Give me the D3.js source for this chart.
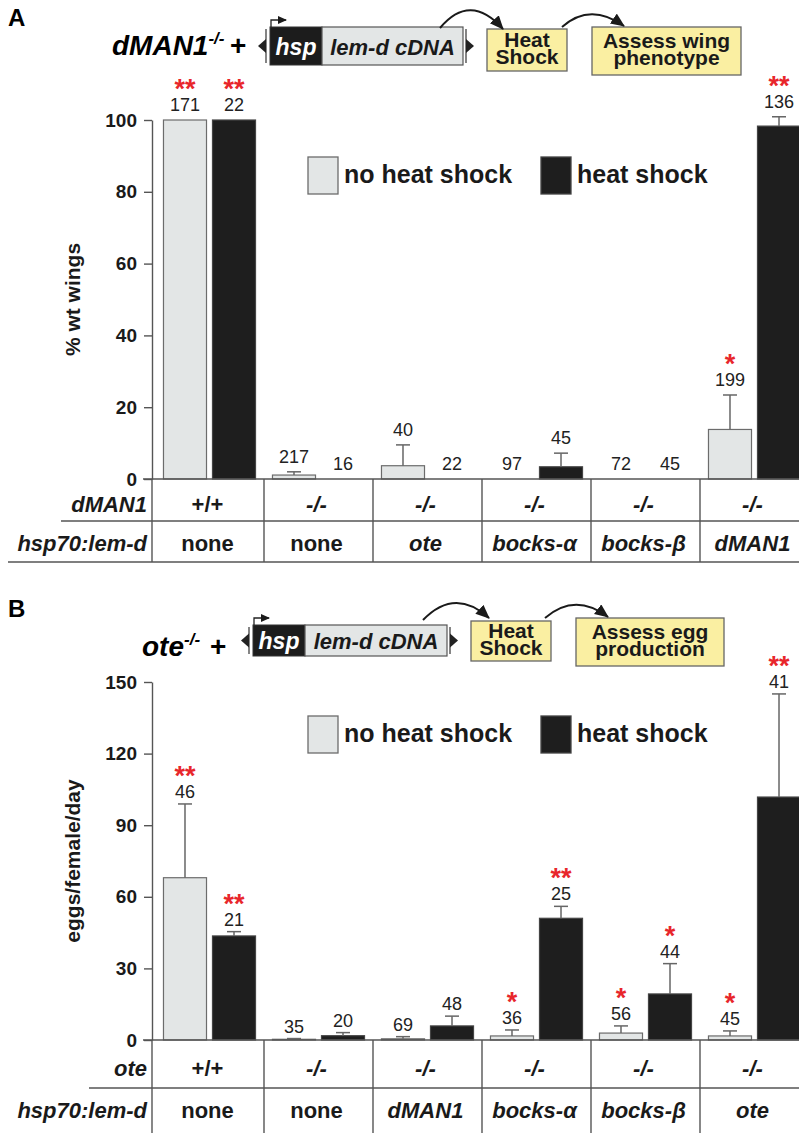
<!DOCTYPE html>
<html>
<head>
<meta charset="utf-8">
<script src="https://cdn.jsdelivr.net/npm/d3@7"></script>
<style>
  body { margin: 0; background: #fff; }
  svg { display: block; font-family: "Liberation Sans", Arial, Helvetica, sans-serif; }
</style>
</head>
<body>
<svg id="chart" width="799" height="1133"></svg>
<script>
// ---- data ----
const conditions = ["no heat shock", "heat shock"];

// panel A: % wt wings
const wingGenotype = ["+/+", "-/-", "-/-", "-/-", "-/-", "-/-"];
const wingTransgene = ["none", "none", "ote", "bocks-α", "bocks-β", "dMAN1"];
const wingNoHS = [100, 1.1, 3.7, 0, 0, 13.8];
const wingNoHSErr = [0, 0.9, 5.8, 0, 0, 9.6];
const wingHS = [100, 0, 0, 3.4, 0, 98.3];
const wingHSErr = [0, 0, 0, 3.8, 0, 2.6];
const wingNoHSN = [171, 217, 40, 97, 72, 199];
const wingHSN = [22, 16, 22, 45, 45, 136];
const wingNoHSSig = ["**", "", "", "", "", "*"];
const wingHSSig = ["**", "", "", "", "", "**"];
const wingTicks = [0, 20, 40, 60, 80, 100];

// panel B: eggs/female/day
const eggGenotype = ["+/+", "-/-", "-/-", "-/-", "-/-", "-/-"];
const eggTransgene = ["none", "none", "dMAN1", "bocks-α", "bocks-β", "ote"];
const eggNoHS = [68, 0.3, 0.5, 1.7, 2.9, 1.7];
const eggNoHSErr = [30.9, 0.3, 0.9, 2.5, 3.0, 2.1];
const eggHS = [43.6, 1.8, 5.9, 51, 19.3, 101.8];
const eggHSErr = [1.8, 1.3, 4.1, 5, 12.7, 43.2];
const eggNoHSN = [46, 35, 69, 36, 56, 45];
const eggHSN = [21, 20, 48, 25, 44, 41];
const eggNoHSSig = ["**", "", "", "*", "*", "*"];
const eggHSSig = ["**", "", "", "**", "*", "**"];
const eggTicks = [0, 30, 60, 90, 120, 150];

const LIGHT = "#e3e6e6", DARK = "#1e1e1e", LINE = "#555", YELLOW = "#faefa2", RED = "#e8262b";

const svg = d3.select("#chart");

const defs = svg.append("defs");
defs.append("marker")
  .attr("id", "head")
  .attr("markerUnits", "userSpaceOnUse")
  .attr("markerWidth", 16).attr("markerHeight", 16)
  .attr("refX", 13).attr("refY", 6)
  .attr("orient", "auto")
  .append("path").attr("d", "M0,0 L14,6 L0,12 Z").attr("fill", "#1a1a1a");
defs.append("marker")
  .attr("id", "small")
  .attr("markerUnits", "userSpaceOnUse")
  .attr("markerWidth", 10).attr("markerHeight", 10)
  .attr("refX", 8).attr("refY", 4)
  .attr("orient", "auto")
  .append("path").attr("d", "M0,0 L9,4 L0,8 Z").attr("fill", "#1a1a1a");

function drawHeader(h) {
  const g = svg.append("g");
  g.append("text").attr("x", 8).attr("y", h.letterY).text(h.letter)
    .attr("font-size", 24).attr("font-weight", "bold");

  const t = g.append("text").attr("x", h.geneX).attr("y", h.baseY)
    .attr("font-size", 28).attr("font-weight", "bold").attr("font-style", "italic");
  t.append("tspan").text(h.gene);
  t.append("tspan").text("-/-").attr("font-size", 17).attr("dy", -11);
  g.append("text").attr("x", h.plusX).attr("y", h.baseY).text("+")
    .attr("font-size", 28).attr("font-weight", "bold");

  // construct
  const bx = h.boxX, by = h.boxY, bh = h.boxH;
  const mid = by + bh / 2;
  g.append("path").attr("d", `M${bx - 4},${by + 2} L${bx - 4},${by + bh - 2}`).attr("stroke", "#333").attr("stroke-width", 1.2);
  g.append("path").attr("d", `M${bx - 12},${mid} L${bx - 4},${mid - 7} L${bx - 4},${mid + 7} Z`).attr("fill", "#222");
  g.append("rect").attr("x", bx).attr("y", by).attr("width", 52).attr("height", bh)
    .attr("fill", "#1c1c1c").attr("stroke", "#333");
  g.append("rect").attr("x", bx + 52).attr("y", by).attr("width", h.cdnaW).attr("height", bh)
    .attr("fill", LIGHT).attr("stroke", "#555").attr("stroke-width", 1.2);
  const rx = bx + 52 + h.cdnaW;
  g.append("path").attr("d", `M${rx + 3},${by + 2} L${rx + 3},${by + bh - 2}`).attr("stroke", "#333").attr("stroke-width", 1.2);
  g.append("path").attr("d", `M${rx + 3},${mid - 7} L${rx + 11},${mid} L${rx + 3},${mid + 7} Z`).attr("fill", "#222");
  g.append("path").attr("d", `M${bx + 1},${by} L${bx + 1},${by - 7} L${bx + 16},${by - 7}`)
    .attr("fill", "none").attr("stroke", "#222").attr("stroke-width", 1.3).attr("marker-end", "url(#small)");
  g.append("text").attr("x", bx + 26).attr("y", h.textY).attr("text-anchor", "middle").text("hsp")
    .attr("fill", "#fff").attr("font-size", 23).attr("font-weight", "bold").attr("font-style", "italic");
  g.append("text").attr("x", bx + 52 + h.cdnaW / 2).attr("y", h.textY).attr("text-anchor", "middle").text("lem-d cDNA")
    .attr("fill", "#1a1a1a").attr("font-size", 22).attr("font-weight", "bold").attr("font-style", "italic");

  // steps
  h.steps.forEach(s => {
    g.append("rect").attr("x", s.x).attr("y", s.y).attr("width", s.w).attr("height", s.h)
      .attr("fill", YELLOW).attr("stroke", "#666").attr("stroke-width", 1.3);
    s.lines.forEach((ln, k) => {
      g.append("text").attr("x", s.x + s.w / 2).attr("y", s.y + s.h / 2 - 3 + k * 17)
        .attr("text-anchor", "middle").text(ln)
        .attr("font-size", 21).attr("font-weight", "bold").attr("fill", "#1a1a1a");
    });
  });
  h.arrows.forEach(a => {
    g.append("path").attr("d", `M${a[0]},${a[1]} Q${a[2]},${a[3]} ${a[4]},${a[5]}`)
      .attr("fill", "none").attr("stroke", "#1a1a1a").attr("stroke-width", 2)
      .attr("marker-end", "url(#head)");
  });
}

function drawPanel(p) {
  const g = svg.append("g");
  const y = d3.scaleLinear().domain([0, p.ticks[p.ticks.length - 1]]).range([p.y0, p.y1]);
  const x0 = d3.scaleBand().domain(d3.range(p.noHS.length)).range([155, 809]);
  const x1 = d3.scaleBand().domain(conditions).range([0, x0.bandwidth()])
    .paddingInner(0.122).paddingOuter(0.173);

  const recs = [];
  p.noHS.forEach((v, i) => recs.push({ i, c: conditions[0], v, e: p.noHSErr[i], n: p.noHSN[i], s: p.noHSSig[i] }));
  p.hs.forEach((v, i) => recs.push({ i, c: conditions[1], v, e: p.hsErr[i], n: p.hsN[i], s: p.hsSig[i] }));
  const cx = d => x0(d.i) + x1(d.c) + x1.bandwidth() / 2;

  // axis
  const ax = g.append("g").attr("transform", "translate(152,0)")
    .call(d3.axisLeft(y).tickValues(p.ticks).tickSize(8).tickSizeOuter(0).tickPadding(7));
  ax.select(".domain").attr("stroke", LINE).attr("stroke-width", 1.4);
  ax.selectAll(".tick line").attr("stroke", LINE).attr("stroke-width", 1.4);
  ax.selectAll(".tick text").attr("font-size", 19).attr("font-weight", "bold")
    .attr("fill", "#1a1a1a").attr("font-family", "Liberation Sans, Arial, sans-serif");
  g.append("text").attr("transform", `translate(80,${(p.y0 + p.y1) / 2}) rotate(-90)`)
    .attr("text-anchor", "middle").text(p.title)
    .attr("font-size", 21).attr("font-weight", "bold").attr("fill", "#1a1a1a");

  // bars
  g.selectAll(".bar").data(recs.filter(d => d.v > 0)).join("rect")
    .attr("x", d => x0(d.i) + x1(d.c)).attr("width", x1.bandwidth())
    .attr("y", d => y(d.v)).attr("height", d => y(0) - y(d.v))
    .attr("fill", d => d.c === conditions[0] ? LIGHT : DARK)
    .attr("stroke", d => d.c === conditions[0] ? "#6c6c6c" : "#444").attr("stroke-width", 1.2);

  // error bars
  const eb = recs.filter(d => d.e > 0);
  g.selectAll(".err").data(eb).join("line")
    .attr("x1", cx).attr("x2", cx).attr("y1", d => y(d.v)).attr("y2", d => y(d.v + d.e))
    .attr("stroke", "#666").attr("stroke-width", 1.5);
  g.selectAll(".cap").data(eb).join("line")
    .attr("x1", d => cx(d) - 7).attr("x2", d => cx(d) + 7)
    .attr("y1", d => y(d.v + d.e)).attr("y2", d => y(d.v + d.e))
    .attr("stroke", "#666").attr("stroke-width", 1.5);

  // n labels with significance stars stacked above (one text each)
  const lab = g.selectAll(".n").data(recs).join("text")
    .attr("text-anchor", "middle");
  lab.filter(d => d.s).append("tspan")
    .attr("x", cx).attr("y", d => y(d.v + d.e) - p.labelGap - 13)
    .text(d => d.s)
    .attr("font-size", 27).attr("font-weight", "bold").attr("fill", RED);
  lab.append("tspan")
    .attr("x", cx).attr("y", d => y(d.v + d.e) - p.labelGap)
    .text(d => d.n)
    .attr("font-size", 18).attr("fill", "#222");

  // baseline and table
  g.append("line").attr("x1", 143).attr("x2", 799).attr("y1", p.y0).attr("y2", p.y0)
    .attr("stroke", LINE).attr("stroke-width", 1.4);
  g.append("line").attr("x1", 152).attr("x2", 152).attr("y1", p.y0).attr("y2", p.tableBottom)
    .attr("stroke", LINE).attr("stroke-width", 1.4);
  g.selectAll(".sep").data(d3.range(1, p.noHS.length)).join("line")
    .attr("x1", i => x0(i)).attr("x2", i => x0(i)).attr("y1", p.y0).attr("y2", p.tableBottom)
    .attr("stroke", LINE).attr("stroke-width", 1.4);
  g.append("line").attr("x1", p.rowLineStart).attr("x2", 799).attr("y1", p.rowLine).attr("y2", p.rowLine)
    .attr("stroke", LINE).attr("stroke-width", 1.4);
  if (p.bottomLine) {
    g.append("line").attr("x1", 8).attr("x2", 799).attr("y1", p.tableBottom).attr("y2", p.tableBottom)
      .attr("stroke", LINE).attr("stroke-width", 1.4);
  }
  const rowLab = [[p.rowName, p.row1Y], ["hsp70:lem-d", p.row2Y]];
  rowLab.forEach(r => g.append("text").attr("x", 147).attr("y", r[1]).attr("text-anchor", "end").text(r[0])
    .attr("font-size", 22).attr("font-weight", "bold").attr("font-style", "italic").attr("fill", "#1a1a1a"));
  g.selectAll(".geno").data(p.genotype).join("text")
    .attr("x", (d, i) => x0(i) + x0.bandwidth() / 2 - 2).attr("y", p.row1Y)
    .attr("text-anchor", "middle").text(d => d)
    .attr("font-size", 22).attr("font-weight", "bold")
    .attr("font-style", d => d === "-/-" ? "italic" : "normal").attr("fill", "#1a1a1a");
  g.selectAll(".tg").data(p.transgene).join("text")
    .attr("x", (d, i) => x0(i) + x0.bandwidth() / 2 - 2).attr("y", p.row2Y)
    .attr("text-anchor", "middle").text(d => d)
    .attr("font-size", 22).attr("font-weight", "bold")
    .attr("font-style", d => d === "none" ? "normal" : "italic").attr("fill", "#1a1a1a");

  // legend
  const leg = g.append("g");
  [[308, 344, LIGHT, "#6c6c6c"], [541, 577, DARK, "#444"]].forEach((L, k) => {
    leg.append("rect").attr("x", L[0]).attr("y", p.legY).attr("width", 30).attr("height", 37)
      .attr("fill", L[2]).attr("stroke", L[3]).attr("stroke-width", 1.3);
    leg.append("text").attr("x", L[1]).attr("y", p.legY + 26).text(conditions[k])
      .attr("font-size", 25).attr("font-weight", "bold").attr("fill", "#1a1a1a");
  });
}

drawHeader({
  letter: "A", letterY: 26, gene: "dMAN1", geneX: 112, plusX: 230, baseY: 55,
  boxX: 270, boxY: 27, boxH: 38, cdnaW: 141, textY: 55,
  steps: [
    { x: 487, y: 29, w: 80, h: 42, lines: ["Heat", "Shock"] },
    { x: 592, y: 27, w: 149, h: 48, lines: ["Assess wing", "phenotype"] }
  ],
  arrows: [[440, 28, 470, -8, 503, 29], [562, 27, 590, 2, 624, 26]]
});
drawPanel({
  y0: 479, y1: 120, ticks: wingTicks, title: "% wt wings",
  noHS: wingNoHS, noHSErr: wingNoHSErr, hs: wingHS, hsErr: wingHSErr,
  noHSN: wingNoHSN, hsN: wingHSN, noHSSig: wingNoHSSig, hsSig: wingHSSig,
  genotype: wingGenotype, transgene: wingTransgene, rowName: "dMAN1",
  labelGap: 9, rowLine: 521, rowLineStart: 61, tableBottom: 562, bottomLine: true,
  row1Y: 512, row2Y: 551, legY: 157
});

drawHeader({
  letter: "B", letterY: 617, gene: "ote", geneX: 142, plusX: 210, baseY: 656,
  boxX: 253, boxY: 625, boxH: 31, cdnaW: 142, textY: 649,
  steps: [
    { x: 471, y: 621, w: 80, h: 40, lines: ["Heat", "Shock"] },
    { x: 576, y: 618, w: 148, h: 48, lines: ["Assess egg", "production"] }
  ],
  arrows: [[423, 620, 455, 587, 489, 618], [545, 618, 575, 592, 608, 617]]
});
drawPanel({
  y0: 1040, y1: 682, ticks: eggTicks, title: "eggs/female/day",
  noHS: eggNoHS, noHSErr: eggNoHSErr, hs: eggHS, hsErr: eggHSErr,
  noHSN: eggNoHSN, hsN: eggHSN, noHSSig: eggNoHSSig, hsSig: eggHSSig,
  genotype: eggGenotype, transgene: eggTransgene, rowName: "ote",
  labelGap: 6, rowLine: 1088, rowLineStart: 89, tableBottom: 1133, bottomLine: false,
  row1Y: 1076, row2Y: 1118, legY: 716
});
</script>
</body>
</html>
